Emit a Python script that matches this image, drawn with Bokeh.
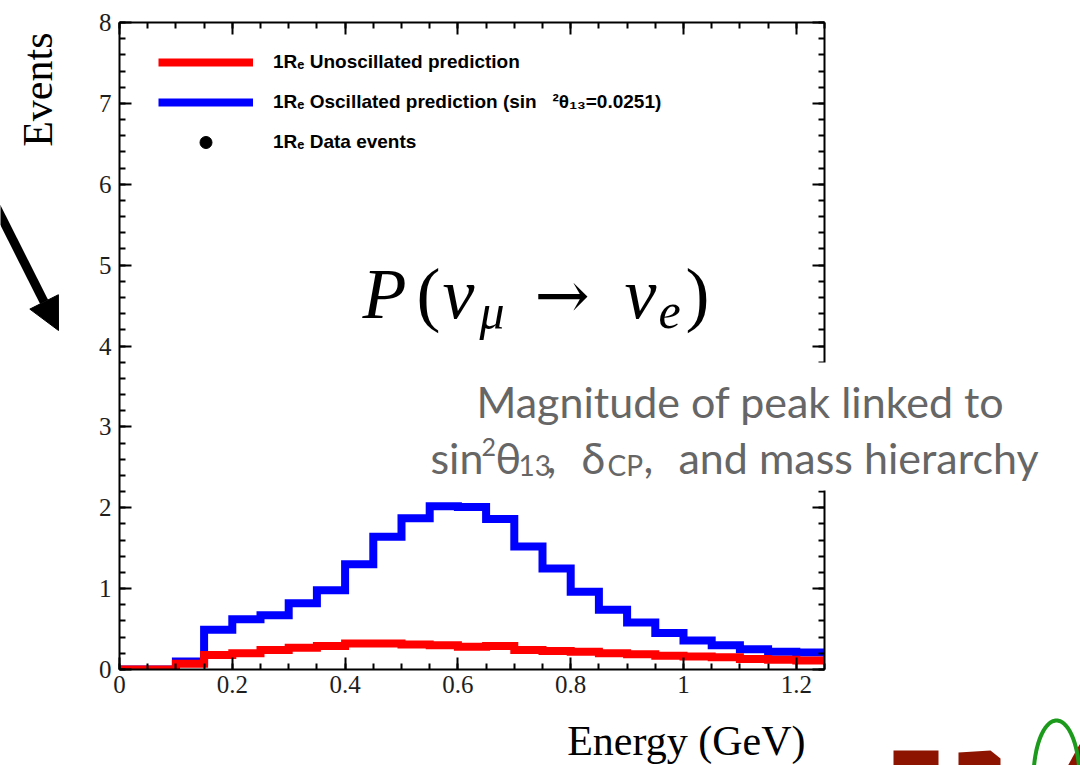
import math
import numpy as np
from bokeh.plotting import figure
from bokeh.models import (Range1d, FixedTicker, LinearAxis, Label, Legend, LegendItem,
                          BoxAnnotation, Arrow, NormalHead, PolyAnnotation, NumeralTickFormatter)
from bokeh.embed import file_html
from bokeh.resources import INLINE

# ---------------- data ----------------
bin_edges = [0.00, 0.05, 0.10, 0.15, 0.20, 0.25, 0.30, 0.35, 0.40, 0.45, 0.50, 0.55, 0.60,
             0.65, 0.70, 0.75, 0.80, 0.85, 0.90, 0.95, 1.00, 1.05, 1.10, 1.15, 1.20, 1.25]
oscillated = [0.00, 0.00, 0.10, 0.49, 0.62, 0.67, 0.82, 0.98, 1.30, 1.64, 1.87, 2.02, 2.01,
              1.86, 1.52, 1.25, 0.96, 0.74, 0.58, 0.45, 0.36, 0.30, 0.25, 0.22, 0.21]
unoscillated = [0.00, 0.00, 0.07, 0.18, 0.20, 0.24, 0.27, 0.29, 0.32, 0.32, 0.31, 0.30, 0.28,
                0.29, 0.24, 0.23, 0.22, 0.20, 0.19, 0.17, 0.16, 0.15, 0.13, 0.12, 0.11]
# no data events are shown yet (legend entry only)
data_events_x = [float("nan")]
data_events_y = [float("nan")]

x_ticks = [0, 0.2, 0.4, 0.6, 0.8, 1, 1.2]
x_tick_labels = ["0", "0.2", "0.4", "0.6", "0.8", "1", "1.2"]
y_ticks = [0, 1, 2, 3, 4, 5, 6, 7, 8]
y_tick_labels = ["0", "1", "2", "3", "4", "5", "6", "7", "8"]

legend_labels = ["1R\u2091 Unoscillated prediction",
                 "1R\u2091 Oscillated prediction (sin\u00a0\u00a0\u00a0\u00b2\u03b8\u2081\u2083=0.0251)",
                 "1R\u2091 Data events"]

W, H = 1080, 765
XMAX, YMAX = 1.25, 8.0
FX0, FX1, FY0, FY1 = 119.0, 824.0, 669.0, 22.0   # frame edges in page pixels

def dx(px):
    return (px - FX0) / (FX1 - FX0) * XMAX
def dy(py):
    return (FY0 - py) / (FY0 - FY1) * YMAX

# ---------------- main figure ----------------
p = figure(width=W, height=H, x_range=Range1d(0, XMAX), y_range=Range1d(0, YMAX),
           output_backend="svg", toolbar_location=None,
           x_axis_location=None, y_axis_location=None,
           min_border_left=int(FX0), min_border_right=int(W - FX1),
           min_border_top=int(FY1), min_border_bottom=int(H - FY0))
p.xgrid.visible = False
p.ygrid.visible = False
p.outline_line_color = None
p.background_fill_color = "white"
p.border_fill_color = "white"

x_minor = [round(0.05 * i, 2) for i in range(26)]
y_minor = [round(0.2 * i, 1) for i in range(41)]

def make_axis(ticks, minor, labels, show, fmt):
    ax = LinearAxis(ticker=FixedTicker(ticks=ticks, minor_ticks=minor),
                    formatter=NumeralTickFormatter(format=fmt))
    ax.major_tick_in = 12
    ax.major_tick_out = 0
    ax.minor_tick_in = 6
    ax.minor_tick_out = 0
    ax.axis_line_width = 2
    ax.major_tick_line_width = 2
    ax.minor_tick_line_width = 2
    ax.axis_line_color = "black"
    ax.major_tick_line_color = "black"
    ax.minor_tick_line_color = "black"
    ax.major_label_text_font = "Liberation Serif"
    ax.major_label_text_font_size = "25px"
    ax.major_label_text_color = "#1e1e1e"
    if show:
        ax.major_label_overrides = {t: s for t, s in zip(ticks, labels)}
    else:
        ax.major_label_overrides = {t: "" for t in ticks}
        ax.major_label_standoff = 0
    return ax

xb = make_axis(x_ticks, x_minor, x_tick_labels, True, "0.[0]")
xb.major_label_standoff = 6
yl = make_axis(y_ticks, y_minor, y_tick_labels, True, "0")
yl.major_label_standoff = 8
xt = make_axis(x_ticks, x_minor, x_tick_labels, False, "0.[0]")
yr = make_axis(y_ticks, y_minor, y_tick_labels, False, "0")
p.add_layout(xb, "below")
p.add_layout(yl, "left")
p.add_layout(xt, "above")
p.add_layout(yr, "right")

# ---------------- histograms ----------------
def step_xy(edges, vals):
    xs = np.repeat(np.asarray(edges, dtype=float), 2)[1:-1]
    ys = np.repeat(np.asarray(vals, dtype=float), 2)
    return xs, ys

xo, yo = step_xy(bin_edges, oscillated)
xu, yu = step_xy(bin_edges, unoscillated)
r_osc = p.line(xo, yo, line_color="#0000ff", line_width=8, line_join="miter")
r_unosc = p.line(xu, yu, line_color="#ff0000", line_width=8, line_join="miter")
r_data = p.scatter(x=data_events_x, y=data_events_y, size=11, color="black")

legend = Legend(items=[LegendItem(label=legend_labels[0], renderers=[r_unosc]),
                       LegendItem(label=legend_labels[1], renderers=[r_osc]),
                       LegendItem(label=legend_labels[2], renderers=[r_data])],
                location=(39, 512))
legend.glyph_width = 95
legend.glyph_height = 30
legend.label_height = 30
legend.spacing = 10
legend.label_standoff = 20
legend.padding = 0
legend.margin = 0
legend.border_line_color = None
legend.background_fill_alpha = 0
legend.label_text_font = "Liberation Sans"
legend.label_text_font_style = "bold"
legend.label_text_font_size = "19px"
legend.label_text_color = "black"
p.add_layout(legend)

# ---------------- overlay (annotations that reach outside the frame) ----------------
ov = figure(width=W, height=H, x_range=Range1d(dx(0), dx(W)), y_range=Range1d(dy(H), dy(0)),
            output_backend="svg", toolbar_location=None,
            x_axis_location=None, y_axis_location=None, min_border=0)
ov.xgrid.visible = False
ov.ygrid.visible = False
ov.outline_line_color = None
ov.background_fill_alpha = 0
ov.border_fill_alpha = 0
ov.styles = {"position": "absolute", "top": "0px", "left": "0px"}

BASE_SHIFT = 0.36  # em: visual baseline correction for Label's alphabetic baseline

def lab(px, py, text, size, font="Liberation Serif", style="normal", color="black",
        align="left", baseline="alphabetic", angle=0.0):
    if angle == 0.0:
        py = py - BASE_SHIFT * size
    else:
        px = px - BASE_SHIFT * size
    ov.add_layout(Label(x=dx(px), y=dy(py), text=text, text_font=font,
                        text_font_size=f"{size}px", text_font_style=style,
                        text_color=color, text_align=align, text_baseline=baseline,
                        angle=angle))

# axis titles (ROOT style: at the end of each axis)
lab(53, 32, "Events", 42, align="right", angle=math.pi / 2)
lab(805, 756, "Energy (GeV)", 42, align="right")

# formula P(nu_mu -> nu_e)
base, sub = 319, 329
lab(362, base, "P", 72, style="italic")
lab(416, base, "(", 72)
lab(442, base, "\u03bd", 72, style="italic")
lab(479, sub, "\u03bc", 50, style="italic")
lab(534, base, "\u2192", 66, font="DejaVu Serif")
lab(624, base, "\u03bd", 72, style="italic")
lab(658, sub, "e", 50, style="italic")
lab(685, base, ")", 72)

# white backing box for the explanatory text (hides part of the right axis)
ov.add_layout(BoxAnnotation(left=dx(420), right=dx(1070), top=dy(362), bottom=dy(490),
                            fill_color="white", fill_alpha=1.0, line_color=None,
                            line_alpha=0.0))

grey = "#666666"
sans = "Lato"
lab(740, 416, "Magnitude of peak linked to", 43, font=sans, color=grey, align="center")
b2 = 472
lab(430, b2, "sin", 43, font=sans, color=grey)
lab(481, 455, "2", 25, font=sans, color=grey)
lab(495, b2, "\u03b8", 43, font=sans, color=grey)
lab(518, 475, "13", 28, font=sans, color=grey)
lab(546, b2, ",", 43, font=sans, color=grey)
lab(581, b2, "\u03b4", 43, font=sans, color=grey)
lab(607, 475, "CP", 28, font=sans, color=grey)
lab(643, b2, ",", 43, font=sans, color=grey)
lab(678, b2, "and mass hierarchy", 43, font=sans, color=grey)

# arrow at left
ov.add_layout(Arrow(end=NormalHead(size=32, fill_color="black", line_color="black", line_width=1),
                    x_start=dx(-12), y_start=dy(191), x_end=dx(58), y_end=dy(330),
                    line_color="black", line_width=9))

# partial T2K logo at bottom right (shapes)
logo_red = "#8c1400"
def poly(pts, color, fill=True, width=1):
    xs = [dx(a) for a, b in pts]
    ys = [dy(b) for a, b in pts]
    if fill:
        ov.add_layout(PolyAnnotation(xs=xs, ys=ys, fill_color=color, fill_alpha=1.0,
                                     line_color=None, line_alpha=0.0))
    else:
        ov.add_layout(PolyAnnotation(xs=xs, ys=ys, fill_alpha=0.0, line_color=color,
                                     line_alpha=1.0, line_width=width))

poly([(893, 750), (938, 750), (938, 775), (893, 775)], logo_red)
poly([(958, 752), (990, 750), (1000, 758), (1000, 775), (958, 775)], logo_red)
poly([(1062, 775), (1072, 775), (1085, 752), (1085, 744), (1079, 744)], logo_red)
th = np.linspace(0, math.pi, 40)
poly(list(zip(1056 + 23 * np.cos(th), 778 - 58 * np.sin(th))), "#1c9a1c", fill=False, width=4)

open("out.html", "w").write(file_html([p, ov], INLINE))
